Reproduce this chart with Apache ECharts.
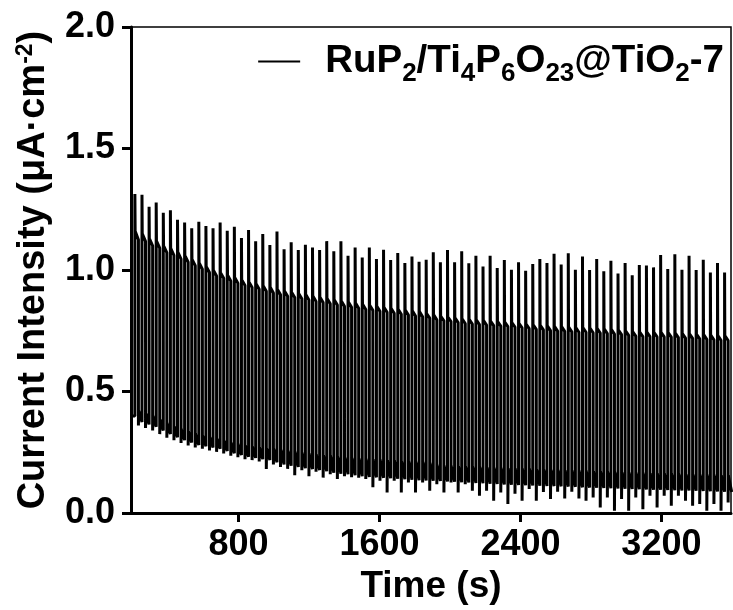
<!DOCTYPE html>
<html>
<head>
<meta charset="utf-8">
<script src="https://cdn.jsdelivr.net/npm/echarts@6/dist/echarts.min.js"></script>
<style>
html,body{margin:0;padding:0;background:#fff;}
#chart{width:733px;height:610px;}
</style>
</head>
<body>
<div id="chart"></div>
<script>
// ---- data (chopped-light photocurrent, 84 on/off cycles) ----
const seriesName = 'RuP2/Ti4P6O23@TiO2-7';
const xTickValues = [800, 1600, 2400, 3200];
const firstLightOn = 212;      // s
const cyclePeriod = 40.32;     // s (light on half, dark half)
const startLevel = 0.40;       // µA·cm-2 before first light-on
// spike maximum at light on
const peak = [1.313,1.310,1.260,1.278,1.236,1.246,1.207,1.196,1.172,1.199,
  1.181,1.172,1.196,1.162,1.178,1.132,1.165,1.118,1.148,1.103,
  1.159,1.086,1.114,1.082,1.104,1.093,1.082,1.119,1.077,1.118,
  1.059,1.093,1.052,1.093,1.045,1.084,1.041,1.070,1.029,1.056,
  1.034,1.042,1.073,1.032,1.082,1.032,1.077,1.028,1.059,1.015,
  1.059,1.008,1.041,1.001,1.032,0.997,1.025,1.045,1.029,1.067,
  1.023,1.069,1.001,1.056,1.000,1.045,0.995,1.038,0.986,1.029,
  0.979,1.021,1.019,1.011,1.062,1.004,1.065,1.001,1.059,1.000,
  1.042,0.990,1.029,0.990];
// photocurrent plateau at start / end of the light period
const onStart = [1.160,1.150,1.130,1.120,1.100,1.090,1.075,1.060,1.045,1.030,
  1.015,1.000,0.990,0.980,0.970,0.960,0.952,0.945,0.937,0.930,
  0.922,0.915,0.910,0.905,0.900,0.894,0.889,0.884,0.879,0.874,
  0.869,0.865,0.860,0.856,0.852,0.848,0.844,0.840,0.837,0.833,
  0.830,0.822,0.817,0.811,0.808,0.804,0.800,0.798,0.796,0.794,
  0.791,0.789,0.787,0.785,0.782,0.779,0.776,0.774,0.771,0.769,
  0.768,0.766,0.764,0.764,0.762,0.761,0.759,0.757,0.754,0.751,
  0.748,0.746,0.746,0.745,0.745,0.744,0.742,0.740,0.739,0.737,
  0.735,0.733,0.731,0.730];
const onEnd = [1.125,1.118,1.100,1.090,1.072,1.060,1.045,1.032,1.018,1.004,
  0.990,0.976,0.966,0.955,0.946,0.936,0.928,0.921,0.913,0.906,
  0.898,0.892,0.887,0.882,0.877,0.871,0.866,0.861,0.856,0.851,
  0.847,0.843,0.838,0.834,0.830,0.826,0.822,0.818,0.815,0.811,
  0.808,0.802,0.795,0.791,0.788,0.784,0.780,0.778,0.776,0.774,
  0.771,0.769,0.767,0.765,0.762,0.759,0.756,0.754,0.751,0.749,
  0.748,0.746,0.744,0.744,0.742,0.741,0.739,0.737,0.734,0.731,
  0.728,0.726,0.726,0.725,0.725,0.724,0.722,0.720,0.719,0.717,
  0.715,0.713,0.711,0.710];
// lowest value of the negative transient at light off
const dip = [0.360,0.350,0.340,0.325,0.310,0.300,0.288,0.278,0.270,0.265,
  0.258,0.252,0.245,0.236,0.230,0.222,0.218,0.212,0.181,0.200,
  0.190,0.182,0.156,0.176,0.152,0.170,0.146,0.160,0.140,0.152,
  0.148,0.145,0.140,0.106,0.133,0.085,0.133,0.085,0.126,0.085,
  0.126,0.092,0.119,0.085,0.126,0.085,0.119,0.092,0.071,0.092,
  0.051,0.085,0.037,0.080,0.051,0.099,0.051,0.087,0.058,0.088,
  0.060,0.088,0.060,0.051,0.064,0.023,0.064,0.010,0.058,0.010,
  0.064,0.016,0.071,0.023,0.071,0.030,0.071,0.051,0.030,0.037,
  0.010,0.037,0.010,0.044];
// dark current at start / end of the dark period
const offStart = [0.420,0.410,0.400,0.385,0.370,0.357,0.345,0.335,0.325,0.318,
  0.312,0.306,0.298,0.290,0.284,0.278,0.273,0.269,0.266,0.264,
  0.260,0.256,0.252,0.248,0.245,0.241,0.238,0.235,0.232,0.229,
  0.227,0.225,0.223,0.221,0.219,0.217,0.215,0.213,0.212,0.211,
  0.210,0.206,0.198,0.195,0.194,0.193,0.192,0.190,0.189,0.188,
  0.186,0.185,0.184,0.183,0.182,0.181,0.180,0.179,0.178,0.177,
  0.176,0.175,0.174,0.173,0.172,0.171,0.170,0.169,0.168,0.167,
  0.166,0.165,0.164,0.163,0.162,0.161,0.161,0.160,0.159,0.158,
  0.158,0.157,0.156,0.155];
const offEnd = [0.375,0.365,0.355,0.340,0.325,0.312,0.300,0.290,0.280,0.275,
  0.270,0.265,0.255,0.246,0.239,0.232,0.227,0.222,0.218,0.209,
  0.200,0.195,0.190,0.185,0.181,0.177,0.172,0.166,0.162,0.160,
  0.156,0.152,0.149,0.147,0.145,0.143,0.141,0.139,0.137,0.135,
  0.134,0.133,0.132,0.130,0.129,0.127,0.126,0.124,0.123,0.121,
  0.120,0.118,0.117,0.116,0.115,0.114,0.113,0.112,0.111,0.110,
  0.109,0.108,0.106,0.105,0.104,0.103,0.102,0.101,0.100,0.099,
  0.098,0.097,0.096,0.096,0.095,0.094,0.093,0.093,0.092,0.091,
  0.090,0.089,0.088,0.087];

// ---- build the trace ----
const pts = [[190, startLevel], [firstLightOn, startLevel]];
for (let i = 0; i < peak.length; i++) {
  const t0 = firstLightOn + i * cyclePeriod;
  const h = cyclePeriod / 2;
  pts.push([t0, peak[i]]);
  pts.push([t0 + 1.5, onStart[i]]);
  pts.push([t0 + h, onEnd[i]]);
  pts.push([t0 + h, dip[i]]);
  pts.push([t0 + h + 1.2, offStart[i]]);
  pts.push([t0 + cyclePeriod, offEnd[i]]);
}

const FONT = '"Liberation Sans", Arial, Helvetica, sans-serif';
const chart = echarts.init(document.getElementById('chart'), null, {renderer: 'canvas'});
chart.setOption({
  animation: false,
  backgroundColor: '#fff',
  grid: {left: 131, right: 2, top: 27, bottom: 96, show: true, borderColor: '#000', borderWidth: 1.5},
  legend: {
    right: 4, top: 37, itemWidth: 42, itemHeight: 2, padding: 5, itemGap: 0,
    data: [{name: seriesName, icon: 'rect'}],
    itemStyle: {color: '#000', borderWidth: 0},
    formatter: function () {
      return '{g|}{m|RuP}{s|2}{m|/Ti}{s|4}{m|P}{s|6}{m|O}{s|23}{m|@TiO}{s|2}{m|-7}';
    },
    textStyle: {
      rich: {
        g: {width: 20},
        m: {fontFamily: FONT, fontWeight: 'bold', fontSize: 38.5, lineHeight: 40, color: '#000'},
        s: {fontFamily: FONT, fontWeight: 'bold', fontSize: 26, padding: [24, 0, 0, 0], color: '#000'}
      }
    }
  },
  xAxis: {
    type: 'value', min: 190, max: 3595,
    name: 'Time (s)', nameLocation: 'middle', nameGap: 50,
    nameTextStyle: {fontFamily: FONT, fontWeight: 'bold', fontSize: 37, color: '#000'},
    axisLine: {show: true, onZero: false, lineStyle: {color: '#000', width: 3}},
    axisTick: {show: true, inside: false, length: 9, lineStyle: {color: '#000', width: 3}, customValues: xTickValues},
    axisLabel: {fontFamily: FONT, fontWeight: 'bold', fontSize: 36, color: '#000', margin: 14, customValues: xTickValues,
      formatter: function (v) { return String(v); }},
    splitLine: {show: false}
  },
  yAxis: {
    type: 'value', min: 0, max: 2, interval: 0.5,
    name: '{m|Current Intensity (μA·cm}{p|-2}{m|)}', nameLocation: 'middle', nameGap: 77, nameRotate: 90,
    nameTextStyle: {
      rich: {
        m: {fontFamily: FONT, fontWeight: 'bold', fontSize: 38, lineHeight: 40, color: '#000'},
        p: {fontFamily: FONT, fontWeight: 'bold', fontSize: 23, lineHeight: 20, verticalAlign: 'top', color: '#000'}
      }
    },
    axisLine: {show: true, onZero: false, lineStyle: {color: '#000', width: 3}},
    axisTick: {show: true, inside: false, length: 9, lineStyle: {color: '#000', width: 3}},
    axisLabel: {fontFamily: FONT, fontWeight: 'bold', fontSize: 36, color: '#000', margin: 16,
      formatter: function (v) { return v.toFixed(1); }},
    splitLine: {show: false}
  },
  series: [{
    type: 'line', name: seriesName, data: pts,
    symbol: 'none', showSymbol: false,
    lineStyle: {color: '#000', width: 3},
    itemStyle: {color: '#000'},
    clip: true
  }]
});
</script>
</body>
</html>
